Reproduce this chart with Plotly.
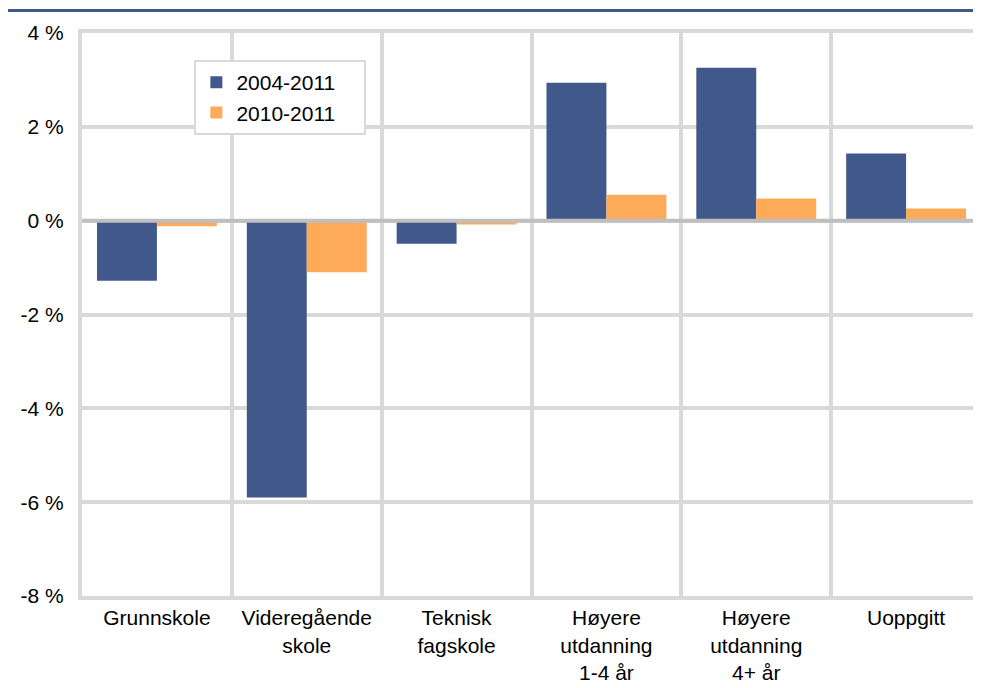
import plotly.graph_objects as go

# ── data ──────────────────────────────────────────────────────────────────────
categories = [
    "Grunnskole",
    "Videregående<br>skole",
    "Teknisk<br>fagskole",
    "Høyere<br>utdanning<br>1-4 år",
    "Høyere<br>utdanning<br>4+ år",
    "Uoppgitt",
]
series_names = ["2004-2011", "2010-2011"]
change_2004_2011 = [-1.28, -5.90, -0.49, 2.94, 3.26, 1.43]
change_2010_2011 = [-0.12, -1.10, -0.08, 0.55, 0.47, 0.26]

y_ticks = [4, 2, 0, -2, -4, -6, -8]
y_ticktext = ["4 %", "2 %", "0 %", "-2 %", "-4 %", "-6 %", "-8 %"]

_BLUE = "#41598a"
_ORANGE = "#fdaa59"
_GRID = "#d9d9d9"
_ZERO = "#bfbfbf"
_FONT = "Liberation Sans, Arial, sans-serif"

# the page body adds an 8px margin, so the figure is 8px smaller on each axis
_OFF = 8
# trailing spaces widen the legend box like the Excel original
_PAD = "&#160;" * 4

fig = go.Figure()
fig.add_trace(go.Bar(
    x=categories, y=change_2004_2011, name=series_names[0] + _PAD,
    marker=dict(color=_BLUE, line=dict(width=0)),
))
fig.add_trace(go.Bar(
    x=categories, y=change_2010_2011, name=series_names[1] + _PAD,
    marker=dict(color=_ORANGE, line=dict(width=0)),
))

# zero line drawn over the bars, like the Excel axis
fig.add_shape(type="line", xref="paper", yref="y", x0=0, x1=1, y0=0, y1=0,
              line=dict(color=_ZERO, width=4), layer="above")
# dark rule under the (cropped) header
fig.add_shape(type="line", xref="paper", yref="paper",
              x0=-0.087, x1=1.0, y0=1.04, y1=1.04,
              line=dict(color=_BLUE, width=3))

fig.update_layout(
    width=981 - _OFF, height=688 - _OFF,
    paper_bgcolor="white", plot_bgcolor="white",
    font=dict(family=_FONT, color="#000000", size=21),
    margin=dict(l=82 - _OFF, r=0, t=33 - _OFF, b=92, autoexpand=False),
    barmode="group", bargap=0.2, bargroupgap=0,
    showlegend=True,
    legend=dict(
        x=0.125, y=0.952, xanchor="left", yanchor="top",
        bgcolor="white", bordercolor=_GRID, borderwidth=2,
        font=dict(size=21), tracegroupgap=6,
    ),
    xaxis=dict(
        type="category", tickson="boundaries",
        showgrid=True, gridcolor=_GRID, gridwidth=4,
        showline=True, linecolor=_GRID, linewidth=4, mirror=True,
        zeroline=False, ticks="outside", ticklen=10,
        tickcolor="rgba(0,0,0,0)", automargin=False,
        tickfont=dict(size=21), tickangle=0,
    ),
    yaxis=dict(
        range=[-8, 4], tickvals=y_ticks, ticktext=y_ticktext,
        showgrid=True, gridcolor=_GRID, gridwidth=4,
        showline=True, linecolor=_GRID, linewidth=4, mirror=True,
        zeroline=False, automargin=False,
        ticks="outside", ticklen=10, tickcolor="rgba(0,0,0,0)",
        tickfont=dict(size=21),
    ),
)

fig.write_html("out.html")
